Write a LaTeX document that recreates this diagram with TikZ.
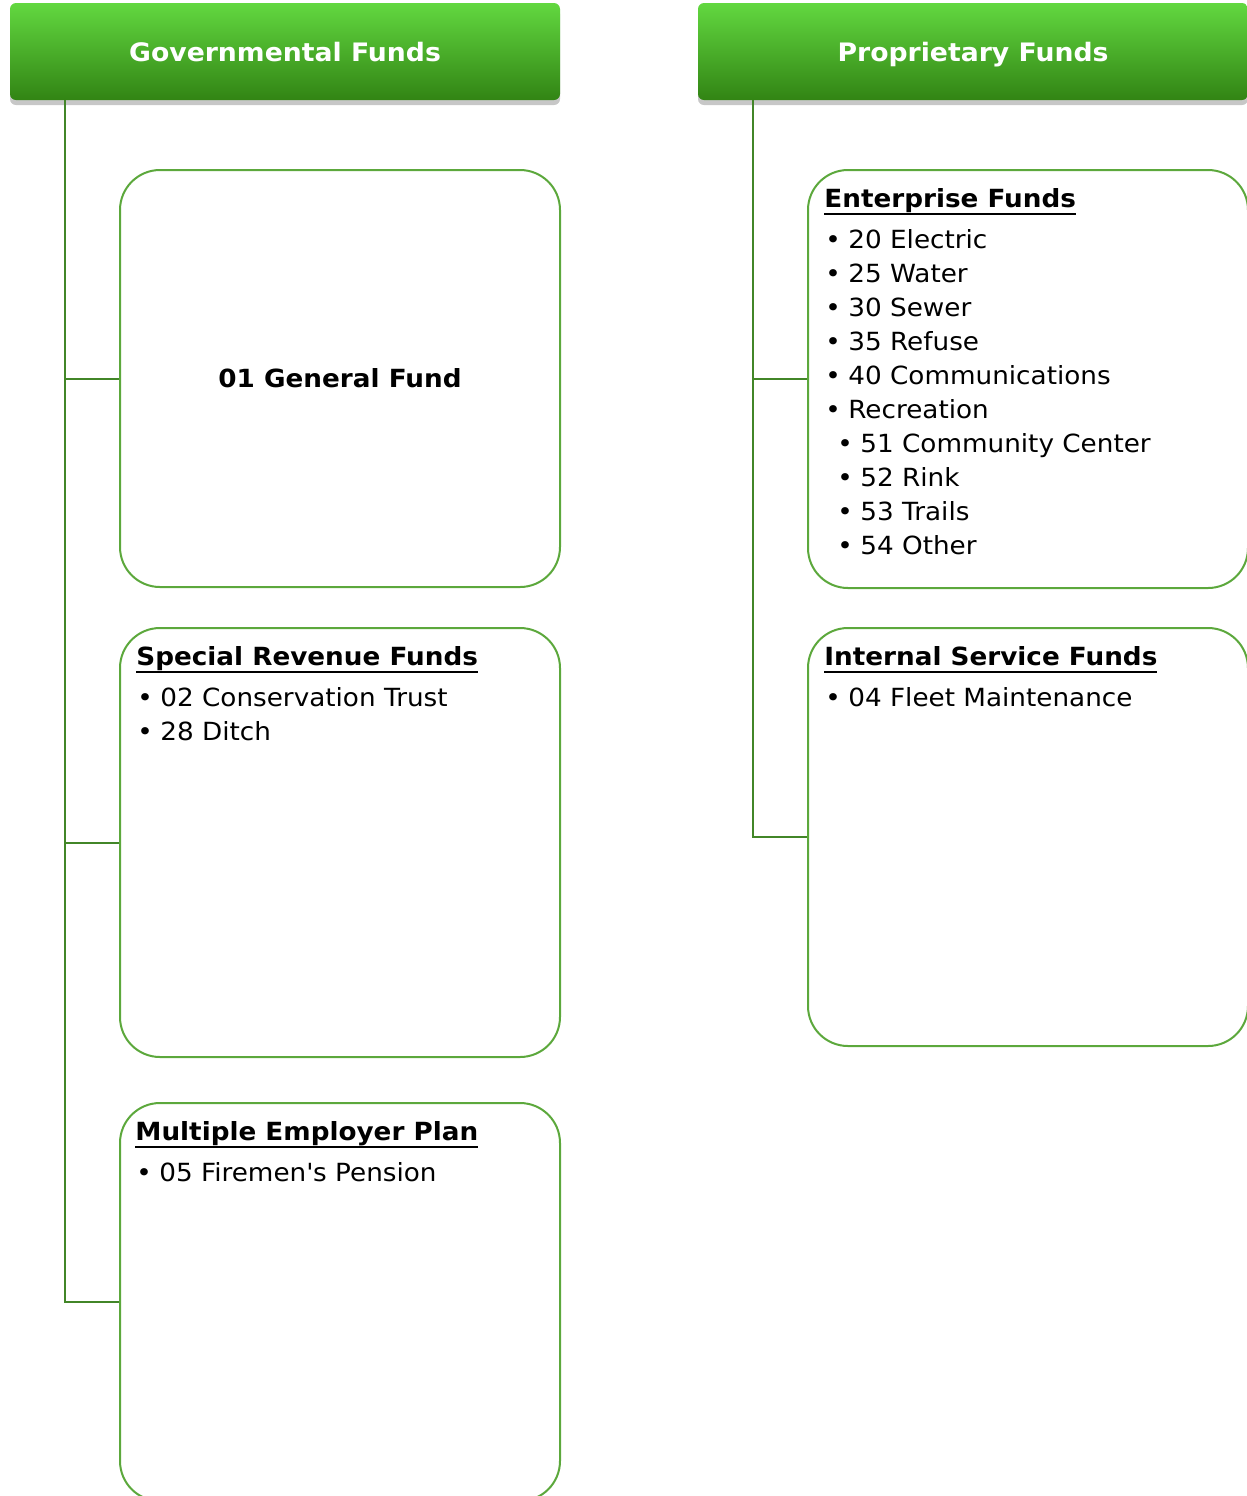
\documentclass[tikz,border=0pt]{standalone}
\usepackage{fontspec}
\setmainfont{DejaVu Sans}[FakeStretch=1.05]
\usetikzlibrary{positioning,shadows}

\definecolor{hdtop}{RGB}{98,216,64}
\definecolor{hdbot}{RGB}{50,132,20}
\definecolor{boxgreen}{RGB}{92,168,60}
\definecolor{trunkgreen}{RGB}{66,134,40}

\newsavebox{\headbox}
\newcommand{\fundhead}[1]{\sbox{\headbox}{\bfseries #1}%
	\rlap{\rule[-4pt]{\wd\headbox}{1pt}}\usebox{\headbox}}
\newcommand{\fitem}[1]{\makebox[12pt][l]{\hspace{0.5pt}\textbullet}#1}
\newcommand{\sitem}[1]{\hspace{6pt}\fitem{#1}}

\tikzset{
	header/.style={rounded corners=3pt, top color=hdtop, bottom color=hdbot,
		minimum width=275pt, minimum height=48.5pt, text=white,
		text height=11pt, text depth=1.2pt,
		font=\bfseries\fontsize{12.7}{15}\selectfont,
		drop shadow={shadow xshift=0pt, shadow yshift=-2.5pt, opacity=0.22, fill=black}},
	fundbox/.style={draw=boxgreen, line width=1pt, rounded corners=20pt,
		minimum width=220pt, fill=white},
	fundlist/.style={anchor=north west, inner sep=0pt, align=left,
		font=\fontsize{12.5}{17}\selectfont},
	trunk/.style={draw=trunkgreen, line width=1pt}
}

\begin{document}
\begin{tikzpicture}[x=0.5pt,y=-0.5pt]
	\useasboundingbox (0,0) rectangle (1247,1496);
	% column headers
	\node[header] (gov) at (285,51.5) {Governmental Funds};
	\node[header] (prop) at (973,51.5) {Proprietary Funds};
	\coordinate (govroot) at ([xshift=27.5pt]gov.south west);
	\coordinate (proproot) at ([xshift=27.5pt]prop.south west);
	% governmental side
	\node[fundbox, minimum height=208.5pt, font=\bfseries\fontsize{12.5}{15}\selectfont]
		(gf) at (340,378.5) {01 General Fund};
	\node[fundbox, minimum height=214.5pt] (srf) at (340,842.5) {};
	\node[fundbox, minimum height=199pt] (mep) at (340,1302) {};
	\node[fundlist] (srflist) at ([shift={(17,19)}]srf.north west) {%
		\fundhead{Special Revenue Funds}\\[3.5pt]
		\fitem{02 Conservation Trust}\\
		\fitem{28 Ditch}};
	\node[fundlist] (meplist) at ([shift={(16,19)}]mep.north west) {%
		\fundhead{Multiple Employer Plan}\\[3.5pt]
		\fitem{05 Firemen\textquotesingle s Pension}};
	% proprietary side
	\node[fundbox, minimum height=209pt] (ent) at (1028,379) {};
	\node[fundbox, minimum height=209pt] (isf) at (1028,837) {};
	\node[fundlist] (entlist) at ([shift={(17,19)}]ent.north west) {%
		\fundhead{Enterprise Funds}\\[3.5pt]
		\fitem{20 Electric}\\
		\fitem{25 Water}\\
		\fitem{30 Sewer}\\
		\fitem{35 Refuse}\\
		\fitem{40 Communications}\\
		\fitem{Recreation}\\
		\sitem{51 Community Center}\\
		\sitem{52 Rink}\\
		\sitem{53 Trails}\\
		\sitem{54 Other}};
	\node[fundlist] (isflist) at ([shift={(17,19)}]isf.north west) {%
		\fundhead{Internal Service Funds}\\[3.5pt]
		\fitem{04 Fleet Maintenance}};
	% connectors
	\draw[trunk] (govroot) |- (gf.west);
	\draw[trunk] (govroot) |- (srf.west);
	\draw[trunk] (govroot) |- (mep.west);
	\draw[trunk] (proproot) |- (ent.west);
	\draw[trunk] (proproot) |- (isf.west);
\end{tikzpicture}
\end{document}
